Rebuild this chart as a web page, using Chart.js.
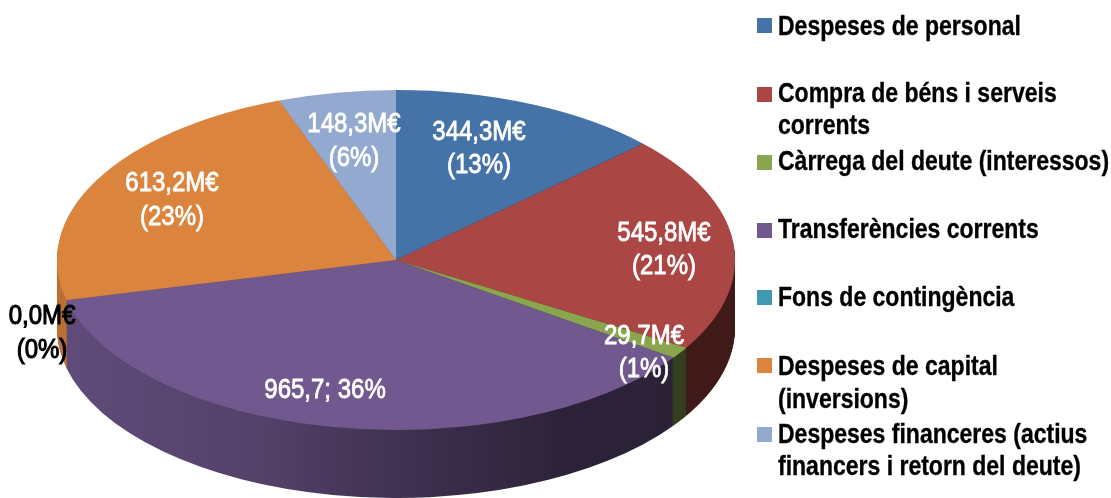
<!DOCTYPE html>
<html>
<head>
<meta charset="utf-8">
<title>Despeses</title>
<script src="https://cdn.jsdelivr.net/npm/chart.js@4"></script>
<style>
  html, body { margin: 0; padding: 0; background: #fff; overflow: hidden; }
  #box { position: relative; width: 1111px; height: 498px; }
</style>
</head>
<body>
<div id="box"><canvas id="pieChart"></canvas></div>
<script>
const categories = [
  "Despeses de personal",
  "Compra de béns i serveis corrents",
  "Càrrega del deute (interessos)",
  "Transferències corrents",
  "Fons de contingència",
  "Despeses de capital (inversions)",
  "Despeses financeres (actius financers i retorn del deute)",
];
const values = [344.3, 545.8, 29.7, 965.7, 0.0, 613.2, 148.3];
const colors = ["#4572a7", "#aa4643", "#89a54e", "#71588f", "#4198af", "#db843d", "#93a9cf"];

// wrapped legend text, as it breaks in the picture
const legendLines = [
  ["Despeses de personal"],
  ["Compra de béns i serveis", "corrents"],
  ["Càrrega del deute (interessos)"],
  ["Transferències corrents"],
  ["Fons de contingència"],
  ["Despeses de capital", "(inversions)"],
  ["Despeses financeres (actius", "financers i retorn del deute)"],
];
const legendMarkerY = [18, 87, 155, 223, 290, 358, 427];
const legendBaselines = [[35], [102, 134], [170], [238], [306], [375, 408], [443, 475]];

// x centre and the two baselines of each slice label
const labelSpots = [
  [479, 140, 173],
  [664, 241, 274],
  [644, 344, 377],
  [325, 398, 398],
  [42, 324, 358],
  [172, 191, 225],
  [354, 132, 166],
];

// where the flattened pie sits on the page
const pieX = 396;
const pieY = 260;
const pieRx = 339;
const pieRy = 170;
const pieDepth = 68;

const total = values.reduce((a, b) => a + b, 0);

function flatten(ctx, chart, dy) {
  const arc = chart.getDatasetMeta(0).data[0];
  ctx.translate(pieX, pieY + dy);
  ctx.scale(pieRx / arc.outerRadius, pieRy / arc.outerRadius);
  ctx.translate(-arc.x, -arc.y);
}

function sideFill(ctx, arc, color) {
  const r = parseInt(color.slice(1, 3), 16);
  const g = parseInt(color.slice(3, 5), 16);
  const b = parseInt(color.slice(5, 7), 16);
  const shade = (k) => "rgb(" + Math.round(r * k) + "," + Math.round(g * k) + "," + Math.round(b * k) + ")";
  const grad = ctx.createLinearGradient(arc.x - arc.outerRadius, 0, arc.x + arc.outerRadius, 0);
  grad.addColorStop(0, shade(0.85));
  grad.addColorStop(0.285, shade(0.75));
  grad.addColorStop(0.5, shade(0.57));
  grad.addColorStop(0.74, shade(0.4));
  grad.addColorStop(1, shade(0.37));
  return grad;
}

const pie3d = {
  id: "pie3d",
  beforeDatasetsDraw(chart) {
    const ctx = chart.ctx;
    const arcs = chart.getDatasetMeta(0).data;
    const fills = arcs.map((arc, i) => sideFill(ctx, arc, colors[i]));
    for (let d = pieDepth; d >= 1; d--) {
      ctx.save();
      flatten(ctx, chart, d);
      arcs.forEach((arc, i) => {
        const saved = arc.options;
        arc.options = { backgroundColor: fills[i], borderWidth: 0, borderRadius: 0, offset: 0, spacing: 0, circular: true, borderAlign: "center" };
        arc.draw(ctx);
        arc.options = saved;
      });
      ctx.restore();
    }
    ctx.save();
    flatten(ctx, chart, 0);
  },
  afterDatasetsDraw(chart) {
    chart.ctx.restore();
  },
  afterDraw(chart) {
    const ctx = chart.ctx;
    ctx.save();
    ctx.textBaseline = "alphabetic";
    ctx.filter = "blur(0.4px)";

    // slice labels
    ctx.font = "24px 'Liberation Sans'";
    ctx.textAlign = "center";
    values.forEach((v, i) => {
      const money = v.toFixed(1).replace(".", ",");
      const pct = Math.round((v / total) * 100);
      const [x, y1, y2] = labelSpots[i];
      ctx.fillStyle = v === 0 ? "#000" : "#fff";
      ctx.strokeStyle = ctx.fillStyle;
      ctx.lineWidth = v === 0 ? 1 : 0.7;
      if (i === 3) {
        stretchedText(ctx, money + "; " + pct + "%", x, y1);
      } else {
        stretchedText(ctx, money + "M€", x, y1);
        stretchedText(ctx, "(" + pct + "%)", x, y2);
      }
    });

    // legend
    ctx.textAlign = "left";
    ctx.font = "bold 23px 'Liberation Sans'";
    ctx.lineWidth = 0.3;
    ctx.strokeStyle = "#000";
    categories.forEach((name, i) => {
      ctx.fillStyle = colors[i];
      ctx.filter = "none";
      ctx.fillRect(757, legendMarkerY[i], 15, 15);
      ctx.filter = "blur(0.4px)";
      ctx.fillStyle = "#000";
      legendLines[i].forEach((line, j) => {
        stretchedText(ctx, line, 778, legendBaselines[i][j]);
      });
    });
    ctx.restore();
  },
};

function stretchedText(ctx, text, x, y) {
  ctx.save();
  ctx.translate(x, y);
  ctx.scale(1, 1.17);
  ctx.fillText(text, 0, 0);
  ctx.strokeText(text, 0, 0);
  ctx.restore();
}

const pieChart = new Chart(document.getElementById("pieChart"), {
  type: "pie",
  data: {
    labels: categories,
    datasets: [
      {
        data: values,
        backgroundColor: colors,
        borderWidth: 0,
        clip: false,
      },
    ],
  },
  options: {
    responsive: true,
    maintainAspectRatio: false,
    animation: false,
    layout: { padding: 0 },
    plugins: {
      legend: { display: false },
      tooltip: { enabled: false },
    },
  },
  plugins: [pie3d],
});
</script>
</body>
</html>
